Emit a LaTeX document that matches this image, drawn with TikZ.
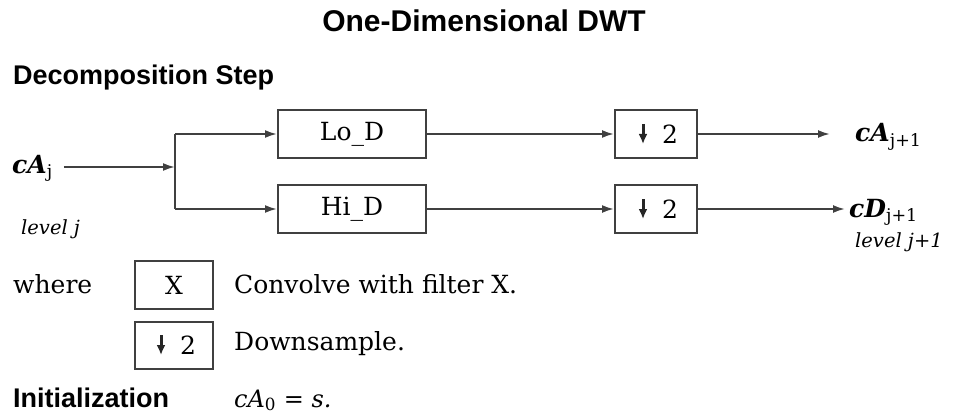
\documentclass[tikz,border=0pt]{standalone}
\usepackage{amsmath,amssymb}
\usepackage{fontspec}
\setmainfont{DejaVu Serif}
\newfontfamily\headfont{Liberation Sans}
\usetikzlibrary{arrows.meta}
\tikzset{
  flow/.style={-{Latex[length=12pt,width=8pt]}, line width=2pt, draw=black!75},
  link/.style={line width=2pt, draw=black!75},
  markarrow/.style={-{Latex[length=10pt,width=9pt]}, line width=3pt, draw=black!85},
  filterbox/.style={draw=black!75, line width=2pt, minimum width=148pt, minimum height=48pt, font=\fontsize{25}{30}\selectfont},
  downbox/.style={filterbox, minimum width=82pt},
  keybox/.style={filterbox, minimum width=78pt, minimum height=48pt},
  label/.style={anchor=base west, inner sep=0pt, font=\fontsize{25}{30}\selectfont},
  coef/.style={label, font=\fontsize{25}{30}\selectfont},
  lvl/.style={label, font=\itshape\fontsize{19.5}{23}\selectfont},
  heading/.style={anchor=base west, inner sep=0pt, font=\headfont\bfseries\fontsize{27}{32}\selectfont},
}
% "down 2" symbol: the 2 as text, the arrow drawn beside it
\newcommand{\dtwo}{\hspace*{28pt}2}
\newcommand{\downmark}[1]{\draw[markarrow] ([shift={(-13,-10)}]#1.center) -- ([shift={(-13,10)}]#1.center);}

\begin{document}
\begin{tikzpicture}[x=1pt,y=-1pt]
	\useasboundingbox (0,0) rectangle (956,417);
	\node[anchor=base, inner sep=0pt, font=\headfont\bfseries\fontsize{30}{35}\selectfont] (title) at (484,32) {One-Dimensional DWT};
	\node[heading] (step) at (13,85) {Decomposition Step};
	% decomposition
	\node[coef] (cAj) at (12,173) {\textbf{\textit{cA}}$_{\text{j}}$};
	\coordinate (split) at (175,167);
	\node[filterbox] (lod) at (352,134) {Lo\_D};
	\node[filterbox] (hid) at (352,209) {Hi\_D};
	\node[downbox] (dsa) at (656,134) {\dtwo};
	\node[downbox] (dsd) at (656,209) {\dtwo};
	\downmark{dsa}
	\downmark{dsd}
	\coordinate (endA) at (830,134);
	\coordinate (endD) at (845,209);
	\node[coef] (cAn) at (855,142) {\textbf{\textit{cA}}$_{\text{j+1}}$};
	\node[coef] (cDn) at (849,217) {\textbf{\textit{cD}}$_{\text{j+1}}$};
	\node[lvl] (levj) at (21,234) {level j};
	\node[lvl] (levn) at (855,247) {level j+1};
	\draw[flow, shorten <=11pt] (cAj.east |- split) -- (split);
	\draw[link] (split |- lod) -- (split |- hid);
	\draw[flow] (split |- lod) -- (lod);
	\draw[flow] (split |- hid) -- (hid);
	\draw[flow] (lod) -- (dsa);
	\draw[flow] (hid) -- (dsd);
	\draw[flow] (dsa) -- (endA);
	\draw[flow] (dsd) -- (endD);
	% legend
	\node[label] (where) at (13,293) {where};
	\node[keybox] (keyx) at (174,285) {X};
	\node[keybox, minimum height=47pt] (keyd) at (174,345) {\dtwo};
	\downmark{keyd}
	\node[label] (keyxtxt) at (234,293) {Convolve with filter X.};
	\node[label] (keydtxt) at (234,350) {Downsample.};
	\node[heading] (init) at (13,407) {Initialization};
	\node[label, font=\fontsize{24}{29}\selectfont] (initeq) at (234,407) {\textit{cA}$_{\text{0}}$ = \textit{s.}};
\end{tikzpicture}
\end{document}
